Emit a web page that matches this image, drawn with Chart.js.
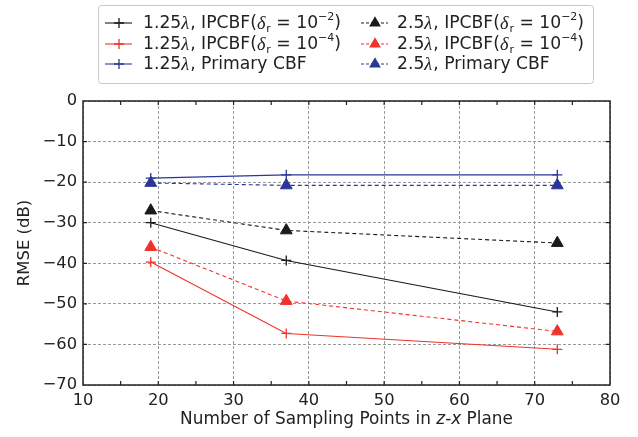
<!DOCTYPE html>
<html>
<head>
<meta charset="utf-8">
<script src="https://cdn.jsdelivr.net/npm/chart.js@4/dist/chart.umd.min.js"></script>
<style>
html,body{margin:0;padding:0;background:#fff;}
#wrap{width:638px;height:437px;position:relative;}
</style>
</head>
<body>
<div id="wrap"><canvas id="c" width="638" height="437"></canvas></div>
<script>
// ---- data ----
const xValues = [19, 37, 73];
const s125_d2 = [-30.0, -39.3, -52.0];
const s125_d4 = [-39.7, -57.3, -61.2];
const s125_p  = [-19.0, -18.2, -18.2];
const s25_d2  = [-27.0, -31.9, -35.0];
const s25_d4  = [-36.0, -49.3, -56.8];
const s25_p   = [-20.2, -20.8, -20.8];
const xTicks = [10, 20, 30, 40, 50, 60, 70, 80];
const yTicks = [0, -10, -20, -30, -40, -50, -60, -70];
const xTitle = ['Number of Sampling Points in ', 'z', '-', 'x', ' Plane'];
const yTitle = 'RMSE (dB)';
const seriesNames = [
  '1.25λ, IPCBF(δr = 10−2)', '1.25λ, IPCBF(δr = 10−4)', '1.25λ, Primary CBF',
  '2.5λ, IPCBF(δr = 10−2)', '2.5λ, IPCBF(δr = 10−4)', '2.5λ, Primary CBF'
];
// rich legend labels: [text, style] n=normal i=italic b=subscript p=superscript
const legendRich = [
  [['1.25','n'],['λ','i'],[', IPCBF(','n'],['δ','i'],['r','b'],[' = 10','n'],['−2','p'],[')','n']],
  [['1.25','n'],['λ','i'],[', IPCBF(','n'],['δ','i'],['r','b'],[' = 10','n'],['−4','p'],[')','n']],
  [['1.25','n'],['λ','i'],[', Primary CBF','n']],
  [['2.5','n'],['λ','i'],[', IPCBF(','n'],['δ','i'],['r','b'],[' = 10','n'],['−2','p'],[')','n']],
  [['2.5','n'],['λ','i'],[', IPCBF(','n'],['δ','i'],['r','b'],[' = 10','n'],['−4','p'],[')','n']],
  [['2.5','n'],['λ','i'],[', Primary CBF','n']]
];

const BLACK = '#1a1a1a', RED = '#f0322a', BLUE = '#2a3794';
const FONT = '"DejaVu Sans", Verdana, sans-serif';
const FS = 16.3;

function pts(ys){ return xValues.map((x,i)=>({x:x, y:ys[i]})); }
function ds(label, ys, color, dashed, style){
  return {
    label: label, data: pts(ys), borderColor: color, backgroundColor: color,
    borderWidth: 1.1, borderDash: dashed ? [4,3] : [],
    pointStyle: style, pointRadius: style === 'triangle' ? 6.8 : 5,
    pointBorderWidth: style === 'triangle' ? 1 : 1.3,
    pointBorderColor: color, pointBackgroundColor: color,
    tension: 0, fill: false
  };
}

const datasets = [
  ds(seriesNames[0], s125_d2, BLACK, false, 'cross'),
  ds(seriesNames[1], s125_d4, RED, false, 'cross'),
  ds(seriesNames[2], s125_p, BLUE, false, 'cross'),
  ds(seriesNames[3], s25_d2, BLACK, true, 'triangle'),
  ds(seriesNames[4], s25_d4, RED, true, 'triangle'),
  ds(seriesNames[5], s25_p, BLUE, true, 'triangle')
];

function drawRich(ctx, x, y, segs, size){
  let cx = x;
  segs.forEach(([t, s])=>{
    let f, dy = 0;
    if (s === 'n') f = size + 'px ' + FONT;
    else if (s === 'i') f = 'italic ' + (size+1) + 'px "Liberation Serif", "DejaVu Serif", serif';
    else if (s === 'b') { f = Math.round(size*0.66) + 'px ' + FONT; dy = size*0.28; }
    else { f = Math.round(size*0.66) + 'px ' + FONT; dy = -size*0.38; }
    ctx.font = f;
    ctx.fillText(t, cx, y + dy);
    cx += ctx.measureText(t).width;
    if (s === 'i') cx += 1;
  });
  return cx;
}

function marker(ctx, style, x, y, color){
  ctx.save();
  ctx.strokeStyle = color; ctx.fillStyle = color; ctx.setLineDash([]);
  if (style === 'cross'){
    ctx.lineWidth = 1.3;
    ctx.beginPath();
    ctx.moveTo(x-5, y); ctx.lineTo(x+5, y);
    ctx.moveTo(x, y-5); ctx.lineTo(x, y+5);
    ctx.stroke();
  } else {
    const r = 6.8;
    ctx.beginPath();
    ctx.moveTo(x, y - r);
    ctx.lineTo(x + r*0.866, y + r/2);
    ctx.lineTo(x - r*0.866, y + r/2);
    ctx.closePath(); ctx.fill();
  }
  ctx.restore();
}

const framePlugin = {
  id: 'frame',
  afterDraw(chart){
    const ctx = chart.ctx, a = chart.chartArea;
    const xs = chart.scales.x, ys = chart.scales.y;
    ctx.save();
    ctx.strokeStyle = '#222'; ctx.lineWidth = 1.5; ctx.setLineDash([]);
    ctx.strokeRect(a.left, a.top, a.right - a.left, a.bottom - a.top);
    ctx.lineWidth = 1.2;
    ctx.beginPath();
    for (let v = 15; v < 80; v += 5){
      const px = xs.getPixelForValue(v);
      ctx.moveTo(px, a.bottom); ctx.lineTo(px, a.bottom - 4);
      ctx.moveTo(px, a.top); ctx.lineTo(px, a.top + 4);
    }
    for (let v = -60; v < 0; v += 10){
      const py = ys.getPixelForValue(v);
      ctx.moveTo(a.left, py); ctx.lineTo(a.left + 4, py);
      ctx.moveTo(a.right, py); ctx.lineTo(a.right - 4, py);
    }
    ctx.stroke();

    // x title with italic parts
    ctx.fillStyle = '#222'; ctx.textBaseline = 'middle';
    const segs = [[xTitle[0],'n'],[xTitle[1],'i2'],[xTitle[2],'n'],[xTitle[3],'i2'],[xTitle[4],'n']];
    const fnt = s => (s==='i2'?'italic ':'') + 16.9 + 'px ' + FONT;
    let w = 0;
    segs.forEach(([t,s])=>{ ctx.font = fnt(s); w += ctx.measureText(t).width; });
    let cx = (a.left + a.right)/2 - w/2;
    segs.forEach(([t,s])=>{ ctx.font = fnt(s); ctx.fillText(t, cx, 420); cx += ctx.measureText(t).width; });

    // legend
    const L = 98, T = 5, R = 593, B = 83;
    ctx.fillStyle = '#fff'; ctx.strokeStyle = '#c8c8c8'; ctx.lineWidth = 1;
    ctx.beginPath();
    if (ctx.roundRect) ctx.roundRect(L+0.5, T+0.5, R-L, B-T, 3); else ctx.rect(L+0.5, T+0.5, R-L, B-T);
    ctx.fill(); ctx.stroke();
    const rowsY = [23, 44, 64];
    const cols = [{l1:105, l2:132, m:119, t:143}, {l1:361, l2:388, m:375, t:397}];
    for (let i = 0; i < 6; i++){
      const col = cols[Math.floor(i/3)], y = rowsY[i%3], d = datasets[i];
      ctx.save();
      ctx.strokeStyle = d.borderColor; ctx.lineWidth = 1.1;
      ctx.setLineDash(i >= 3 ? [3,2] : []);
      ctx.beginPath(); ctx.moveTo(col.l1, y); ctx.lineTo(col.l2, y); ctx.stroke();
      ctx.restore();
      marker(ctx, d.pointStyle, col.m, y, d.borderColor);
      ctx.fillStyle = '#222'; ctx.textBaseline = 'middle';
      drawRich(ctx, col.t, y + 1, legendRich[i], 17.2);
    }
    ctx.restore();
  }
};

new Chart(document.getElementById('c'), {
  type: 'line',
  data: { datasets: datasets },
  options: {
    responsive: false, animation: false, devicePixelRatio: 1,
    layout: { padding: { top: 101, right: 28, left: 0, bottom: 0 } },
    plugins: { legend: { display: false }, tooltip: { enabled: false } },
    scales: {
      x: {
        type: 'linear', min: 10, max: 80,
        afterBuildTicks(s){ s.ticks = xTicks.map(v=>({value:v})); },
        afterFit(s){ s.height = 52; },
        grid: { color: '#9a9a9a', lineWidth: 1, drawTicks: false, tickLength: 0 },
        border: { display: false, dash: [3,2] },
        ticks: { color: '#222', font: { family: FONT, size: FS }, padding: 6, maxRotation: 0 },
        title: { display: false }
      },
      y: {
        type: 'linear', min: -70, max: 0,
        afterBuildTicks(s){ s.ticks = yTicks.map(v=>({value:v})); },
        afterFit(s){ s.width = 83; },
        grid: { color: '#9a9a9a', lineWidth: 1, drawTicks: false, tickLength: 0 },
        border: { display: false, dash: [3,2] },
        ticks: { color: '#222', font: { family: FONT, size: FS }, padding: 6,
          callback: v => v < 0 ? '\u2212' + Math.abs(v) : String(v) },
        title: { display: true, text: yTitle, color: '#222', font: { family: FONT, size: 16.5 }, padding: { top: 15, bottom: 0 } }
      }
    }
  },
  plugins: [framePlugin]
});
</script>
</body>
</html>
